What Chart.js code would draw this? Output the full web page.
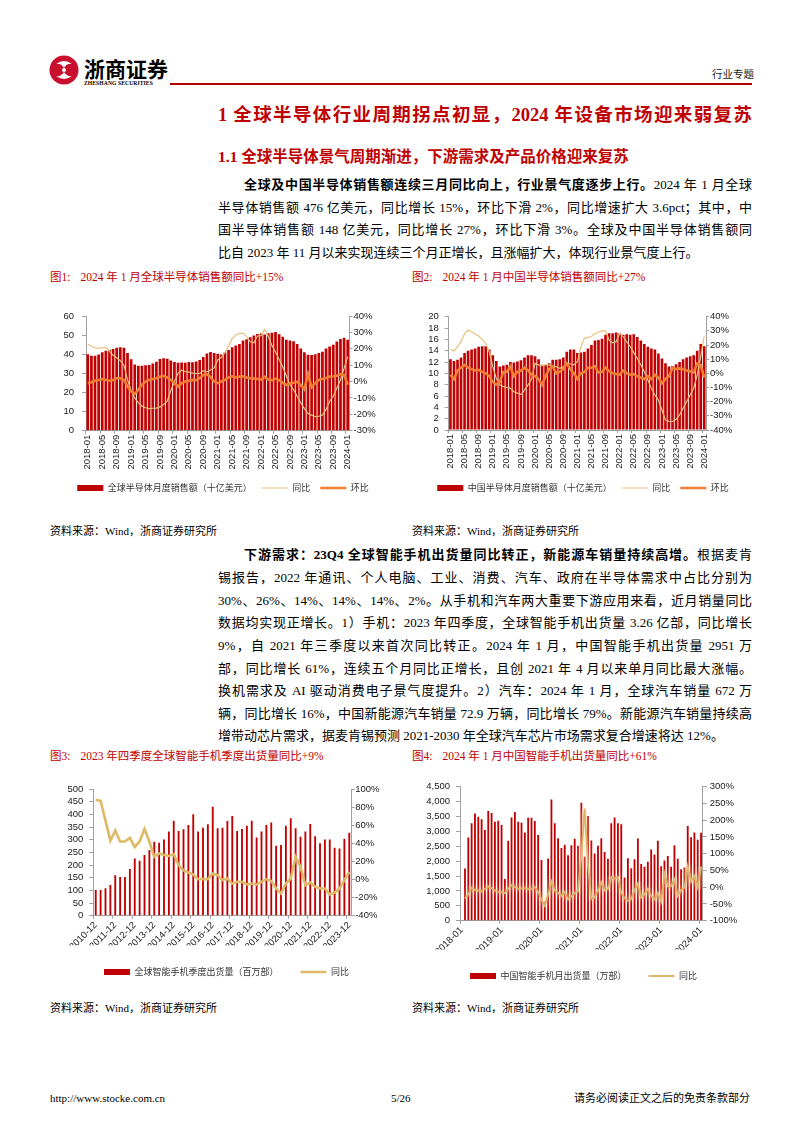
<!DOCTYPE html>
<html>
<head>
<meta charset="utf-8">
<script src="https://cdn.jsdelivr.net/npm/chart.js@4.4.1/dist/chart.umd.min.js"></script>
<style>
  body { margin: 0; background: #fff; }
  #page { position: relative; width: 802px; height: 1133px; overflow: hidden; background: #fff;
          font-family: "Liberation Serif", "Noto Sans CJK SC", serif; color: #000; }
  .abs { position: absolute; white-space: nowrap; }
  .ln { position: absolute; left: 218px; width: 534px; font-size: 13px; line-height: 22px; height: 22px;
        text-align: justify; text-align-last: justify; }
  .ln.last { text-align-last: left; }
  .cap { position: absolute; font-size: 11.5px; line-height: 14px; color: #C00000; white-space: nowrap; }
  .cap i { font-style: normal; display: inline-block; width: 10px; }
  .src { position: absolute; font-size: 11px; line-height: 14px; white-space: nowrap; }
  .box { position: absolute; }
  .box canvas { width: 100%; height: 100%; }
</style>
</head>
<body>
<div id="page">
  <!-- header -->
  <svg class="abs" style="left:49px;top:55px" width="30" height="30" viewBox="0 0 30 30">
    <circle cx="15" cy="15" r="14.5" fill="#C8102E"/>
    <path d="M7 9 Q15 3 23 9 Q18 8 15 13 Q12 8 7 9Z" fill="#fff"/>
    <path d="M7 21 Q15 27 23 21 Q18 22 15 17 Q12 22 7 21Z" fill="#fff"/>
    <circle cx="15" cy="15" r="2" fill="#fff"/>
  </svg>
  <div class="abs" style="left:84px;top:53px;font:bold 21px 'Noto Sans CJK SC';">浙商证券</div>
  <div class="abs" style="left:84px;top:80px;font:bold 5.6px 'Liberation Serif';letter-spacing:0.1px">ZHESHANG SECURITIES</div>
  <div class="abs" style="left:170px;top:83px;width:582px;height:2px;background:#B00000"></div>
  <div class="abs" style="left:712px;top:66px;font-size:10.5px;color:#222">行业专题</div>

  <!-- headings -->
  <div class="abs" style="left:218px;top:100px;width:534px;font-size:18.5px;font-weight:bold;color:#C00000;text-align:justify;text-align-last:justify;white-space:normal">1 全球半导体行业周期拐点初显，2024 年设备市场迎来弱复苏</div>
  <div class="abs" style="left:218px;top:144px;font-size:15.5px;font-weight:bold;color:#C00000">1.1 全球半导体景气周期渐进，下游需求及产品价格迎来复苏</div>

  <!-- paragraph 1 -->
  <div class="ln" style="top:174px;padding-left:26px;width:508px"><b>全球及中国半导体销售额连续三月同比向上，行业景气度逐步上行。</b>2024 年 1 月全球</div>
  <div class="ln" style="top:196.5px">半导体销售额 476 亿美元，同比增长 15%，环比下滑 2%，同比增速扩大 3.6pct；其中，中</div>
  <div class="ln" style="top:219px">国半导体销售额 148 亿美元，同比增长 27%，环比下滑 3%。全球及中国半导体销售额同</div>
  <div class="ln last" style="top:241.5px">比自 2023 年 11 月以来实现连续三个月正增长，且涨幅扩大，体现行业景气度上行。</div>

  <!-- figures 1 & 2 -->
  <div class="cap" style="left:50px;top:270px">图1:<i></i>2024 年 1 月全球半导体销售额同比+15%</div>
  <div class="cap" style="left:412px;top:270px">图2:<i></i>2024 年 1 月中国半导体销售额同比+27%</div>
  <div class="box" style="left:55px;top:300px;width:336px;height:205px"><canvas id="c1"></canvas></div>
  <div class="box" style="left:420px;top:300px;width:326px;height:205px"><canvas id="c2"></canvas></div>
  <div class="src" style="left:50px;top:524px">资料来源：Wind，浙商证券研究所</div>
  <div class="src" style="left:412px;top:524px">资料来源：Wind，浙商证券研究所</div>

  <!-- paragraph 2 -->
  <div class="ln" style="top:544px;padding-left:26px;width:508px"><b>下游需求：23Q4 全球智能手机出货量同比转正，新能源车销量持续高增。</b>根据麦肯</div>
  <div class="ln" style="top:567px">锡报告，2022 年通讯、个人电脑、工业、消费、汽车、政府在半导体需求中占比分别为</div>
  <div class="ln" style="top:590px">30%、26%、14%、14%、14%、2%。从手机和汽车两大重要下游应用来看，近月销量同比</div>
  <div class="ln" style="top:612px">数据均实现正增长。1）手机：2023 年四季度，全球智能手机出货量 3.26 亿部，同比增长</div>
  <div class="ln" style="top:635px">9%，自 2021 年三季度以来首次同比转正。2024 年 1 月，中国智能手机出货量 2951 万</div>
  <div class="ln" style="top:658px">部，同比增长 61%，连续五个月同比正增长，且创 2021 年 4 月以来单月同比最大涨幅。</div>
  <div class="ln" style="top:680px">换机需求及 AI 驱动消费电子景气度提升。2）汽车：2024 年 1 月，全球汽车销量 672 万</div>
  <div class="ln" style="top:703px">辆，同比增长 16%，中国新能源汽车销量 72.9 万辆，同比增长 79%。新能源汽车销量持续高</div>
  <div class="ln last" style="top:725px">增带动芯片需求，据麦肯锡预测 2021-2030 年全球汽车芯片市场需求复合增速将达 12%。</div>

  <!-- figures 3 & 4 -->
  <div class="cap" style="left:50px;top:749px">图3:<i></i>2023 年四季度全球智能手机季度出货量同比+9%</div>
  <div class="cap" style="left:412px;top:749px">图4:<i></i>2024 年 1 月中国智能手机出货量同比+61%</div>
  <div class="box" style="left:60px;top:775px;width:333px;height:215px"><canvas id="c3"></canvas></div>
  <div class="box" style="left:420px;top:775px;width:327px;height:218px"><canvas id="c4"></canvas></div>
  <div class="src" style="left:50px;top:1001px">资料来源：Wind，浙商证券研究所</div>
  <div class="src" style="left:412px;top:1001px">资料来源：Wind，浙商证券研究所</div>

  <!-- footer -->
  <div class="src" style="left:50px;top:1091px">http://www.stocke.com.cn</div>
  <div class="src" style="left:391px;top:1091px">5/26</div>
  <div class="src" style="left:574px;top:1091px">请务必阅读正文之后的免责条款部分</div>
</div>

<script>
// month axis shared by fig 1, 2, 4
const months = [
  '2018-01','2018-02','2018-03','2018-04','2018-05','2018-06','2018-07','2018-08','2018-09','2018-10','2018-11','2018-12',
  '2019-01','2019-02','2019-03','2019-04','2019-05','2019-06','2019-07','2019-08','2019-09','2019-10','2019-11','2019-12',
  '2020-01','2020-02','2020-03','2020-04','2020-05','2020-06','2020-07','2020-08','2020-09','2020-10','2020-11','2020-12',
  '2021-01','2021-02','2021-03','2021-04','2021-05','2021-06','2021-07','2021-08','2021-09','2021-10','2021-11','2021-12',
  '2022-01','2022-02','2022-03','2022-04','2022-05','2022-06','2022-07','2022-08','2022-09','2022-10','2022-11','2022-12',
  '2023-01','2023-02','2023-03','2023-04','2023-05','2023-06','2023-07','2023-08','2023-09','2023-10','2023-11','2023-12',
  '2024-01'
]

const quarters = [
  '2010-12',
  '2011-03','2011-06','2011-09','2011-12','2012-03','2012-06','2012-09','2012-12',
  '2013-03','2013-06','2013-09','2013-12','2014-03','2014-06','2014-09','2014-12',
  '2015-03','2015-06','2015-09','2015-12','2016-03','2016-06','2016-09','2016-12',
  '2017-03','2017-06','2017-09','2017-12','2018-03','2018-06','2018-09','2018-12',
  '2019-03','2019-06','2019-09','2019-12','2020-03','2020-06','2020-09','2020-12',
  '2021-03','2021-06','2021-09','2021-12','2022-03','2022-06','2022-09','2022-12',
  '2023-03','2023-06','2023-09','2023-12'
]

// fig 1: global semiconductor sales (bn USD), yoy %, mom %
const globalSales = [
  40.0, 39.2, 39.2, 39.8, 41.0, 41.8, 42.2, 42.8, 43.4, 43.6, 43.4, 40.6,
  37.4, 34.6, 34.0, 34.0, 34.3, 34.4, 35.2, 36.1, 37.5, 37.9, 37.6, 36.7,
  35.9, 35.6, 35.7, 35.6, 35.9, 35.8, 36.2, 37.0, 38.6, 40.4, 41.2, 40.6,
  40.2, 39.9, 41.0, 42.2, 43.7, 44.6, 45.4, 47.2, 47.9, 48.9, 49.8, 50.6,
  50.8, 50.3, 51.0, 51.2, 51.6, 50.5, 49.2, 47.6, 47.2, 46.8, 45.4, 43.0,
  41.1, 39.7, 39.6, 40.0, 40.7, 41.3, 43.0, 44.0, 44.9, 46.6, 48.0, 48.6,
  47.6
]
const globalYoy = [
  22.7, 21.5, 20.5, 20.3, 20.5, 20.9, 18.5, 16.0, 14.5, 12.8, 10.0, 1.0,
  -5.5, -10.0, -13.0, -15.0, -16.0, -16.5, -16.3, -16.2, -15.5, -14.0, -12.0, -5.5,
  0.0, 5.0, 6.9, 6.1, 5.8, 5.1, 4.9, 4.9, 6.6, 6.0, 7.0, 8.3,
  13.2, 14.7, 17.8, 21.7, 26.2, 28.4, 29.4, 29.4, 27.4, 24.3, 23.7, 27.8,
  28.0, 31.9, 27.5, 22.0, 18.0, 13.5, 9.0, 3.5, -2.0, -5.0, -9.0, -13.0,
  -16.5, -19.5, -20.5, -21.4, -21.2, -20.5, -17.0, -12.0, -9.0, -4.0, 1.0, 8.0,
  15.2
]
const globalMom = [
  -1.0, -0.5, 0.5, 1.0, 1.5, 1.0, 0.5, 1.0, 2.0, 2.0, 1.0, -3.0,
  -6.0, -7.5, -5.0, -2.0, 0.0, 1.0, 1.5, 2.0, 3.0, 3.5, 2.5, 1.0,
  -1.0, -3.0, -1.0, 0.0, 0.5, 1.0, 0.8, 2.0, 4.0, 4.5, 2.8, 0.0,
  -1.0, 0.0, 1.0, 2.5, 3.2, 2.5, 3.0, 3.2, 2.5, 2.0, 1.8, 1.6,
  1.2, 2.8, 1.2, 0.8, 1.8, 0.8, -0.8, -2.2, -1.2, -0.8, -0.2, -2.2,
  -4.8, 4.5, -3.5, -1.0, 1.0, 1.5, 2.2, 3.0, 3.2, 3.5, 4.5, 4.0,
  -2.0
]

// fig 2: China semiconductor sales (bn USD), yoy %, mom %
const chinaSales = [
  12.5, 12.2, 12.4, 12.8, 13.6, 14.0, 14.2, 14.4, 14.7, 14.8, 14.8, 14.2,
  13.2, 12.2, 11.2, 11.4, 11.5, 12.0, 11.9, 12.1, 12.3, 12.8, 13.2, 13.2,
  13.0, 12.5, 11.5, 11.5, 11.8, 12.4, 12.4, 12.5, 12.8, 13.8, 14.2, 14.2,
  13.6, 13.7, 13.8, 14.4, 15.0, 15.8, 15.9, 16.1, 16.8, 17.1, 17.1, 17.2,
  17.1, 16.8, 16.9, 16.8, 16.9, 16.4, 15.8, 15.2, 14.7, 14.4, 14.2, 13.5,
  12.6, 11.8, 11.2, 11.3, 11.6, 12.0, 12.5, 12.8, 13.0, 13.2, 14.0, 15.2,
  14.8
]
const chinaYoy = [
  17.0, 15.8, 18.8, 22.4, 28.0, 30.6, 29.4, 27.8, 26.4, 24.0, 21.0, 15.3,
  4.7, -3.5, -8.2, -9.4, -10.0, -10.6, -13.0, -14.0, -15.0, -11.8, -8.2, -4.2,
  7.0, 6.0, 5.4, 6.0, 6.0, 4.7, 4.7, 3.5, 4.7, 7.0, 6.6, 6.0,
  8.2, 18.8, 24.7, 25.4, 26.0, 28.2, 29.0, 30.0, 30.0, 23.5, 21.6, 22.3,
  28.2, 26.0, 22.3, 18.8, 14.6, 10.6, 6.0, 1.2, -4.7, -10.6, -15.3, -18.8,
  -25.9, -33.0, -34.0, -34.0, -32.5, -29.4, -24.7, -20.0, -15.3, -10.6, -1.2, 11.8,
  26.4
]
const chinaMom = [
  -1.0, -4.0, 2.0, 4.0, 6.0, 4.0, 3.0, 2.0, 2.5, 1.0, 0.0, -2.0,
  -6.0, -8.0, -6.0, 1.0, 1.0, 5.0, -2.0, 1.0, 2.0, 4.0, 2.0, -1.0,
  -2.0, -4.0, -8.0, -2.0, 3.0, 5.0, 0.0, 1.0, 3.0, 7.0, 3.0, 0.0,
  -4.0, 0.0, 1.0, 4.0, 4.0, 5.0, 0.5, 1.0, 4.0, 1.5, 0.0, -0.5,
  -1.0, 2.0, 0.0, -1.0, -0.5, -2.0, -3.0, -4.0, -2.0, -4.0, -1.0, -3.0,
  -7.0, -4.0, -2.0, 4.0, 3.0, 3.5, 3.0, 2.0, 1.5, 0.5, 7.0, 6.0,
  -3.0
]

// fig 3: global smartphone quarterly shipments (mn units), yoy %
const phoneQ = [
  101,
  101, 108, 121, 160, 153, 153, 184, 226,
  217, 240, 259, 292, 288, 301, 332, 375,
  334, 341, 358, 400, 332, 347, 361, 430,
  345, 347, 374, 393, 334, 342, 355, 375,
  309, 332, 358, 368, 276, 279, 355, 385,
  345, 312, 332, 362, 314, 286, 301, 301,
  268, 265, 304, 327
]
const phoneQYoy = [
  88,
  87, 65, 43, 54, 42, 42, 46, 36,
  42, 56, 42, 25, 28.7, 27, 26, 28,
  16, 10, 7.7, 5.5, 0.4, 0.4, 0.4, 6.6,
  4.8, -0.7, 1, -4.4, -2.6, -2.6, -5.5, -4.4,
  -5.5, -2.6, 0.4, -1.8, -10, -15.5, -4.4, 1.1,
  25, 14, -6.3, -3.3, -8.1, -10, -10, -16.6,
  -14.4, -10, -0.7, 8.5
]

// fig 4: China smartphone monthly shipments (10k units), yoy %
const cnPhone = [
  null, 1750, 2795, 3270, 3600, 3490, 3410, 3050, 3685, 3620, 3320, 3355,
  3210, 1400, 2685, 3465, 3650, 3320, 3290, 2960, 3455, 3455, 3345, 2880,
  2035, 640, 2090, 4070, 3270, 2770, 2440, 2550, 2200, 2530, 2750, 2520,
  3960, 2145, 3520, 2695, 2255, 2520, 2770, 2310, 2080, 3270, 3465, 3270,
  3235, 1450, 2100, 1760, 2060, 2760, 1900, 1815, 1980, 2390, 2220, 2685,
  1830, 2025, 2170, 1815, 2530, 2080, 1730, 1790, 3180, 2805, 2960, 2720,
  2950
]
const cnPhoneYoy = [
  null, -34, -20, -2, -8, -10, -12, -5, 2, -3, -10, -14,
  -15, -18, -4, 6, 1, -5, -3, -3, -6, -5, 1, -14,
  -37, -55, -22, 17, -10, -17, -26, -14, -36, -27, -18, -12,
  95, 235, 68, -34, -31, -9, 14, -9, -5, 29, 26, 30,
  -18, -32, -40, -35, -9, 10, -31, -21, -5, -27, -36, -18,
  -43, 40, 3, 3, 23, -25, -9, -1, 61, 17, 33, 1,
  61
]

const RED = '#C00000'
const AXIS = '#a0a0a0'

Chart.defaults.font.family = '"Liberation Sans", "Noto Sans CJK SC", sans-serif'
Chart.defaults.font.size = 9.5
Chart.defaults.color = '#1a1a1a'
Chart.defaults.animation = false

// soft halo for the yoy line in fig 4
const glow = {
  id: 'glow',
  beforeDatasetDraw(chart, args) {
    const ds = chart.data.datasets[args.index]
    if (!ds.glow) return
    chart.ctx.save()
    chart.ctx.shadowColor = ds.glow
    chart.ctx.shadowBlur = 5
  },
  afterDatasetDraw(chart, args) {
    if (chart.data.datasets[args.index].glow) chart.ctx.restore()
  }
}

const pct = v => v + '%'

const build = (id, o) => {
  const datasets = [{
    type: 'bar', label: o.barLabel, data: o.bars, yAxisID: 'y',
    backgroundColor: RED, borderWidth: 0,
    barPercentage: o.barPct, categoryPercentage: 1, order: 5
  }]
  o.lines.forEach((l, k) => datasets.push({
    type: 'line', label: l.label, data: l.data, yAxisID: 'y1',
    borderColor: l.color, backgroundColor: l.color, borderWidth: l.width,
    pointRadius: 0, tension: 0, order: 3 - k, glow: l.glow
  }))

  return new Chart(document.getElementById(id), {
    data: { labels: o.labels, datasets },
    options: {
      responsive: true, maintainAspectRatio: false, devicePixelRatio: 1,
      layout: { padding: { top: o.padTop, bottom: o.padBottom, left: 0, right: 0 } },
      plugins: {
        tooltip: { enabled: false },
        legend: {
          position: 'bottom',
          labels: {
            usePointStyle: true, pointStyleWidth: 26, boxHeight: 6,
            padding: o.legendGap, color: '#333',
            font: { size: 9, family: '"Noto Sans CJK SC", sans-serif' },
            generateLabels: chart => chart.data.datasets.map((ds, i) => ({
              text: ds.label, datasetIndex: i, hidden: false, fontColor: '#333',
              fillStyle: ds.backgroundColor,
              strokeStyle: ds.type === 'bar' ? ds.backgroundColor : ds.borderColor,
              lineWidth: ds.type === 'bar' ? 0 : ds.borderWidth,
              pointStyle: ds.type === 'bar' ? 'rect' : 'line'
            }))
          }
        }
      },
      scales: {
        x: {
          ticks: {
            autoSkip: false, minRotation: o.rot, maxRotation: o.rot, padding: 1,
            callback: (v, i) => i % o.every === 0 ? o.labels[i] : ''
          },
          grid: {
            drawOnChartArea: false, drawTicks: true, tickLength: 3,
            color: c => c.index % o.every === 0 ? AXIS : 'rgba(0,0,0,0)'
          },
          border: { color: AXIS },
          afterFit: s => { s.height = o.xH }
        },
        y: {
          position: 'left', min: o.y.min, max: o.y.max,
          ticks: { autoSkip: false, stepSize: o.y.step, padding: o.y.pad, callback: o.y.fmt },
          grid: { drawOnChartArea: false, drawTicks: true, tickLength: 4, color: AXIS },
          border: { color: AXIS },
          afterFit: s => { s.width = o.y.w }
        },
        y1: {
          position: 'right', min: o.y1.min, max: o.y1.max,
          ticks: { autoSkip: false, stepSize: o.y1.step, padding: o.y1.pad, callback: pct },
          grid: { drawOnChartArea: false, drawTicks: true, tickLength: o.y1.tick, color: AXIS },
          border: { color: AXIS },
          afterFit: s => { s.width = o.y1.w }
        }
      }
    },
    plugins: [glow]
  })
}

document.addEventListener('DOMContentLoaded', () => {
  build('c1', {
    labels: months, bars: globalSales, barLabel: '全球半导体月度销售额（十亿美元）', barPct: 0.75,
    lines: [
      { label: '同比', data: globalYoy, color: '#E5C27C', width: 1.2 },
      { label: '环比', data: globalMom, color: '#F07F34', width: 2.6 }
    ],
    rot: 90, every: 4, xH: 42.8, padTop: 16, padBottom: 2.5, legendGap: 10,
    y: { min: 0, max: 60, step: 10, pad: 8, w: 31 },
    y1: { min: -30, max: 40, step: 10, pad: 1, tick: 3, w: 41.5 }
  })

  build('c2', {
    labels: months, bars: chinaSales, barLabel: '中国半导体月度销售额（十亿美元）', barPct: 0.75,
    lines: [
      { label: '同比', data: chinaYoy, color: '#E5C27C', width: 1.2 },
      { label: '环比', data: chinaMom, color: '#F07F34', width: 2.6 }
    ],
    rot: 90, every: 4, xH: 43.5, padTop: 16.7, padBottom: 2.5, legendGap: 10,
    y: { min: 0, max: 20, step: 2, pad: 6, w: 28.7 },
    y1: { min: -40, max: 40, step: 10, pad: 1, tick: 3, w: 40 }
  })

  build('c3', {
    labels: quarters, bars: phoneQ, barLabel: '全球智能手机季度出货量（百万部）', barPct: 0.38,
    lines: [
      { label: '同比', data: phoneQYoy, color: '#DDB968', width: 2.6 }
    ],
    rot: 45, every: 4, xH: 29.8, padTop: 14, padBottom: 3.5, legendGap: 22,
    y: { min: 0, max: 500, step: 50, pad: 6, w: 33.3 },
    y1: { min: -40, max: 100, step: 20, pad: 0.5, tick: 3, w: 41.3 }
  })

  build('c4', {
    labels: months, bars: cnPhone, barLabel: '中国智能手机月出货量（万部）', barPct: 0.55,
    lines: [
      { label: '同比', data: cnPhoneYoy, color: '#DDB56A', width: 1.8, glow: 'rgba(245,220,165,1)' }
    ],
    rot: 45, every: 12, xH: 28.8, padTop: 9.3, padBottom: 2.5, legendGap: 22,
    y: { min: 0, max: 4500, step: 500, pad: 6, w: 40, fmt: v => v.toLocaleString('en-US') },
    y1: { min: -100, max: 300, step: 50, pad: 3, tick: 4, w: 44.3 }
  })
})
</script>
</body>
</html>
